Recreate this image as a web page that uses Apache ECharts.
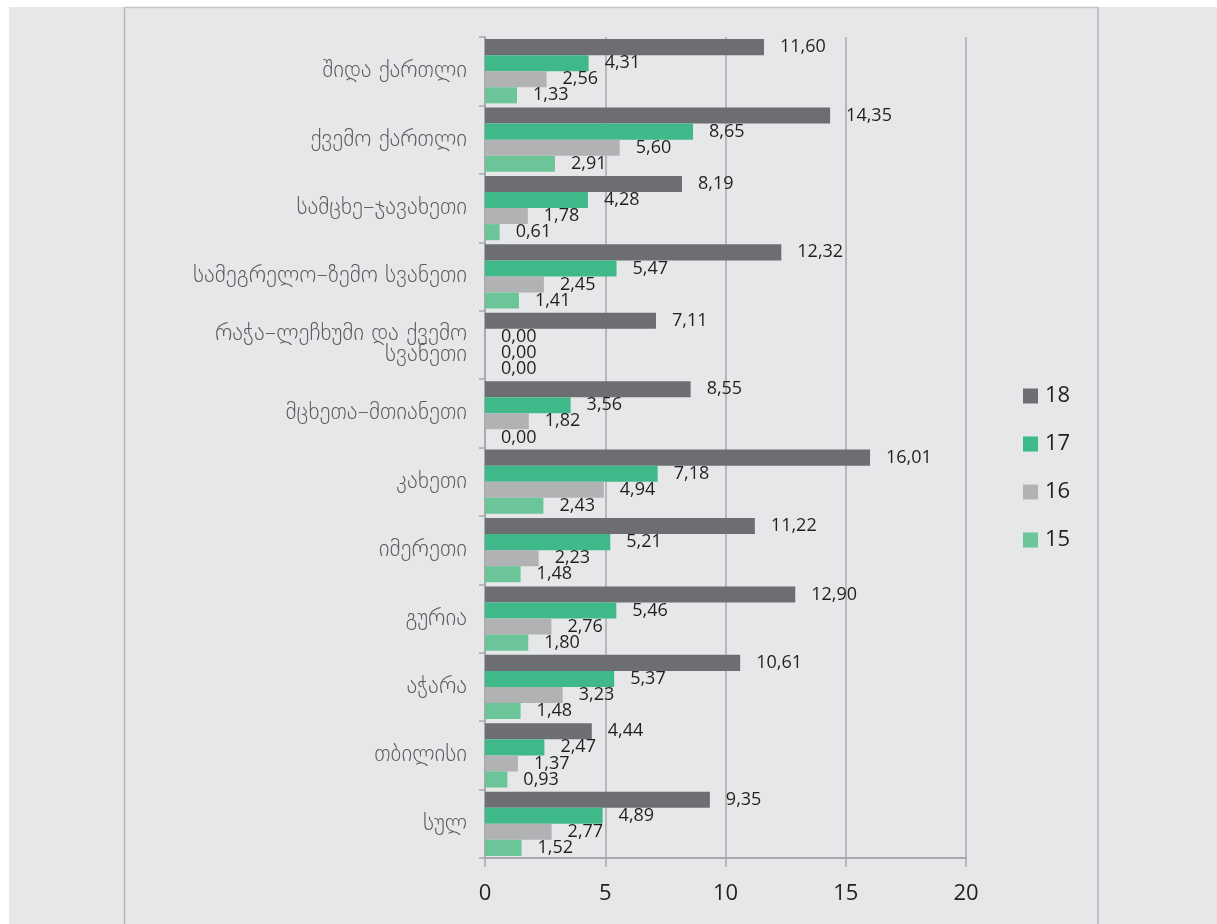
<!DOCTYPE html>
<html>
<head>
<meta charset="utf-8">
<script src="https://cdn.jsdelivr.net/npm/echarts@6/dist/echarts.min.js"></script>
<style>
  html, body { margin: 0; padding: 0; background: #fff; }
  #chart { width: 1217px; height: 924px; }
</style>
</head>
<body>
<div id="chart"></div>
<script>
// regions, top to bottom as in the picture
var regions = ['შიდა ქართლი', 'ქვემო ქართლი', 'სამცხე–ჯავახეთი', 'სამეგრელო–ზემო სვანეთი',
  'რაჭა–ლეჩხუმი და ქვემო\nსვანეთი', 'მცხეთა–მთიანეთი', 'კახეთი', 'იმერეთი', 'გურია', 'აჭარა', 'თბილისი', 'სულ'];
var seriesNames = ['18', '17', '16', '15'];
var v18 = [11.60, 14.35, 8.19, 12.32, 7.11, 8.55, 16.01, 11.22, 12.90, 10.61, 4.44, 9.35];
var v17 = [4.31, 8.65, 4.28, 5.47, 0.00, 3.56, 7.18, 5.21, 5.46, 5.37, 2.47, 4.89];
var v16 = [2.56, 5.60, 1.78, 2.45, 0.00, 1.82, 4.94, 2.23, 2.76, 3.23, 1.37, 2.77];
var v15 = [1.33, 2.91, 0.61, 1.41, 0.00, 0.00, 2.43, 1.48, 1.80, 1.48, 0.93, 1.52];
var xTicks = [0, 5, 10, 15, 20];

var colors = ['#6d6e71', '#40b98a', '#b1b2b4', '#6cc598'];
var chart = echarts.init(document.getElementById('chart'));

function makeSeries(name, data, i) {
  return {
    name: name,
    type: 'bar',
    data: data,
    barGap: '0%',
    barCategoryGap: '6%',
    itemStyle: { color: colors[i] },
    label: {
      show: true,
      position: 'right',
      distance: 16,
      color: '#231f20',
      fontSize: 18,
      fontFamily: 'Open Sans',
      formatter: function (p) { return p.value.toFixed(2).replace('.', ','); }
    }
  };
}

chart.setOption({
  backgroundColor: '#ffffff',
  animation: false,
  color: colors,
  graphic: [
    { type: 'rect', shape: { x: 9, y: 7, width: 1208, height: 917 }, style: { fill: '#e6e7e9' }, silent: true, z: -10 },
    { type: 'line', shape: { x1: 124.5, y1: 7, x2: 124.5, y2: 924 }, style: { stroke: '#b5b6b8', lineWidth: 1.5 }, silent: true },
    { type: 'line', shape: { x1: 1098, y1: 7, x2: 1098, y2: 924 }, style: { stroke: '#b5b6b8', lineWidth: 1.5 }, silent: true },
    { type: 'line', shape: { x1: 124.5, y1: 7.5, x2: 1098, y2: 7.5 }, style: { stroke: '#c4c5c7', lineWidth: 1.5 }, silent: true }
  ],
  legend: {
    orient: 'vertical',
    left: 1018,
    top: 380,
    itemWidth: 15,
    itemHeight: 15,
    itemGap: 26,
    icon: 'rect',
    data: seriesNames,
    textStyle: { fontSize: 22, color: '#231f20', fontFamily: 'Open Sans', padding: [0, 0, 0, 2] }
  },
  grid: { left: 485, right: 251, top: 37, bottom: 66 },
  xAxis: {
    type: 'value',
    min: xTicks[0],
    max: xTicks[xTicks.length - 1],
    interval: 5,
    axisLine: { show: true, lineStyle: { color: '#a7a9ac', width: 2 } },
    axisTick: { show: true, length: 9, lineStyle: { color: '#a7a9ac', width: 1.5 } },
    splitLine: { show: true, lineStyle: { color: '#a7a9ac', width: 1.5 } },
    axisLabel: { fontSize: 22, color: '#231f20', margin: 25, fontFamily: 'Open Sans' }
  },
  yAxis: {
    type: 'category',
    inverse: true,
    data: regions,
    axisLine: { show: true, lineStyle: { color: '#a7a9ac', width: 2 } },
    axisTick: { show: true, length: 6, lineStyle: { color: '#a7a9ac', width: 1.5 } },
    axisLabel: { fontSize: 23, color: '#595a5c', margin: 18, fontFamily: 'DejaVu Sans', fontWeight: 300, lineHeight: 21 }
  },
  series: [
    makeSeries(seriesNames[0], v18, 0),
    makeSeries(seriesNames[1], v17, 1),
    makeSeries(seriesNames[2], v16, 2),
    makeSeries(seriesNames[3], v15, 3)
  ]
});
</script>
</body>
</html>
